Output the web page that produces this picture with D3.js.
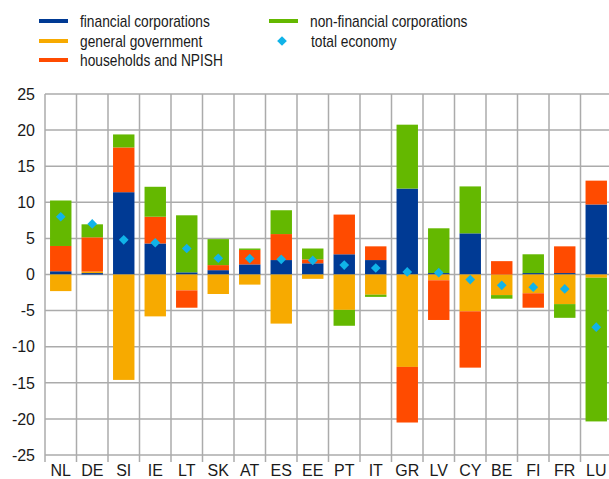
<!DOCTYPE html>
<html>
<head>
<meta charset="utf-8">
<script src="https://cdn.jsdelivr.net/npm/d3@7"></script>
<style>
  body { margin: 0; background: #fff; }
  text { font-family: "Liberation Sans", Arial, sans-serif; fill: #1a1a1a; }
</style>
</head>
<body>
<div id="chart"></div>
<script>
// countries on the x axis
const countries = ["NL", "DE", "SI", "IE", "LT", "SK", "AT", "ES", "EE", "PT", "IT", "GR", "LV", "CY", "BE", "FI", "FR", "LU"];

// sector contributions (percentage points)
const financial    = [0.45, 0.2, 11.4, 4.3, 0.3, 0.6, 1.4, 2.0, 1.55, 2.8, 2.0, 11.9, 0.2, 5.7, 0.0, 0.2, 0.2, 9.7];
const government   = [-2.3, 0.2, -14.6, -5.8, -2.2, -2.7, -1.4, -6.8, -0.6, -4.9, -2.8, -12.8, -0.8, -5.1, -2.85, -2.6, -4.1, -0.45];
const households   = [3.5, 4.75, 6.2, 3.7, -2.4, 0.7, 2.0, 3.6, 0.55, 5.5, 1.9, -7.7, -5.5, -7.8, 1.85, -2.0, 3.7, 3.3];
const nonFinancial = [6.3, 1.8, 1.8, 4.15, 7.9, 3.6, 0.2, 3.3, 1.5, -2.2, -0.3, 8.85, 6.2, 6.5, -0.5, 2.6, -1.9, -19.9];
const total        = [8.0, 7.0, 4.8, 4.4, 3.6, 2.25, 2.2, 2.1, 1.95, 1.3, 0.9, 0.35, 0.25, -0.7, -1.5, -1.75, -2.0, -7.3];

const yTicks = [-25, -20, -15, -10, -5, 0, 5, 10, 15, 20, 25];

const series = [
  { key: "fin", name: "financial corporations", values: financial, color: "#003a94" },
  { key: "gov", name: "general government", values: government, color: "#f7aa00" },
  { key: "hh", name: "households and NPISH", values: households, color: "#ff4b00" },
  { key: "nfc", name: "non-financial corporations", values: nonFinancial, color: "#64b800" }
];
const diamondColor = "#10b3e8";

(function () {
  const width = 609, height = 479;
  const left = 45, right = 612, top = 94, bottom = 455;

  const svg = d3.select("#chart").append("svg")
    .attr("width", width)
    .attr("height", height);

  const x = d3.scaleBand().domain(countries).range([left, right]);
  const y = d3.scaleLinear().domain([-25, 25]).range([bottom, top]);

  const rows = countries.map((c, i) => {
    const r = { country: c };
    series.forEach(s => { r[s.key] = s.values[i]; });
    return r;
  });

  const stacked = d3.stack()
    .keys(series.map(s => s.key))
    .offset(d3.stackOffsetDiverging)(rows);

  // grid
  const grid = svg.append("g").attr("stroke", "#ababab").attr("stroke-width", 1.5);
  grid.selectAll(".h").data(yTicks).enter().append("line")
    .attr("x1", left).attr("x2", right)
    .attr("y1", d => y(d)).attr("y2", d => y(d));
  grid.selectAll(".v").data(countries).enter().append("line")
    .attr("x1", d => x(d)).attr("x2", d => x(d))
    .attr("y1", top).attr("y2", bottom + 7);

  // y labels
  svg.append("g").selectAll("text").data(yTicks).enter().append("text")
    .attr("x", 35).attr("y", d => y(d))
    .attr("dy", "0.36em")
    .attr("text-anchor", "end")
    .style("font-size", "16px")
    .text(d => d);

  // x labels
  svg.append("g").selectAll("text").data(countries).enter().append("text")
    .attr("x", d => x(d) + x.bandwidth() / 2)
    .attr("y", 476)
    .attr("text-anchor", "middle")
    .style("font-size", "16px")
    .text(d => d);

  // bars
  const barW = x.bandwidth() * 0.68;
  svg.append("g").selectAll("g").data(stacked).enter().append("g")
    .attr("fill", (d, i) => series[i].color)
    .selectAll("rect").data(d => d).enter().append("rect")
    .attr("x", d => x(d.data.country) + (x.bandwidth() - barW) / 2)
    .attr("width", barW)
    .attr("y", d => y(Math.max(d[0], d[1])))
    .attr("height", d => Math.abs(y(d[0]) - y(d[1])));

  // total economy diamonds
  const diamond = d3.symbol().type(d3.symbolDiamond2).size(60);
  svg.append("g").selectAll("path").data(total).enter().append("path")
    .attr("d", diamond)
    .attr("fill", diamondColor)
    .attr("transform", (d, i) => `translate(${x(countries[i]) + x.bandwidth() / 2},${y(d)})`);

  // legend
  const legendItems = [
    { s: series[0], x: 39, y: 21 },
    { s: series[1], x: 39, y: 41 },
    { s: series[2], x: 39, y: 60 },
    { s: series[3], x: 269, y: 21 }
  ];
  const legend = svg.append("g");
  legendItems.forEach(it => {
    legend.append("line")
      .attr("x1", it.x).attr("x2", it.x + 29)
      .attr("y1", it.y).attr("y2", it.y)
      .attr("stroke", it.s.color).attr("stroke-width", 4);
    legend.append("text")
      .attr("transform", `translate(${it.x + 41},${it.y}) scale(0.86,1)`)
      .attr("dy", "0.35em")
      .style("font-size", "16px")
      .text(it.s.name);
  });
  legend.append("path")
    .attr("d", diamond)
    .attr("fill", diamondColor)
    .attr("transform", "translate(282,41)");
  legend.append("text")
    .attr("transform", "translate(311,41) scale(0.86,1)")
    .attr("dy", "0.35em")
    .style("font-size", "16px")
    .text("total economy");
})();
</script>
</body>
</html>
